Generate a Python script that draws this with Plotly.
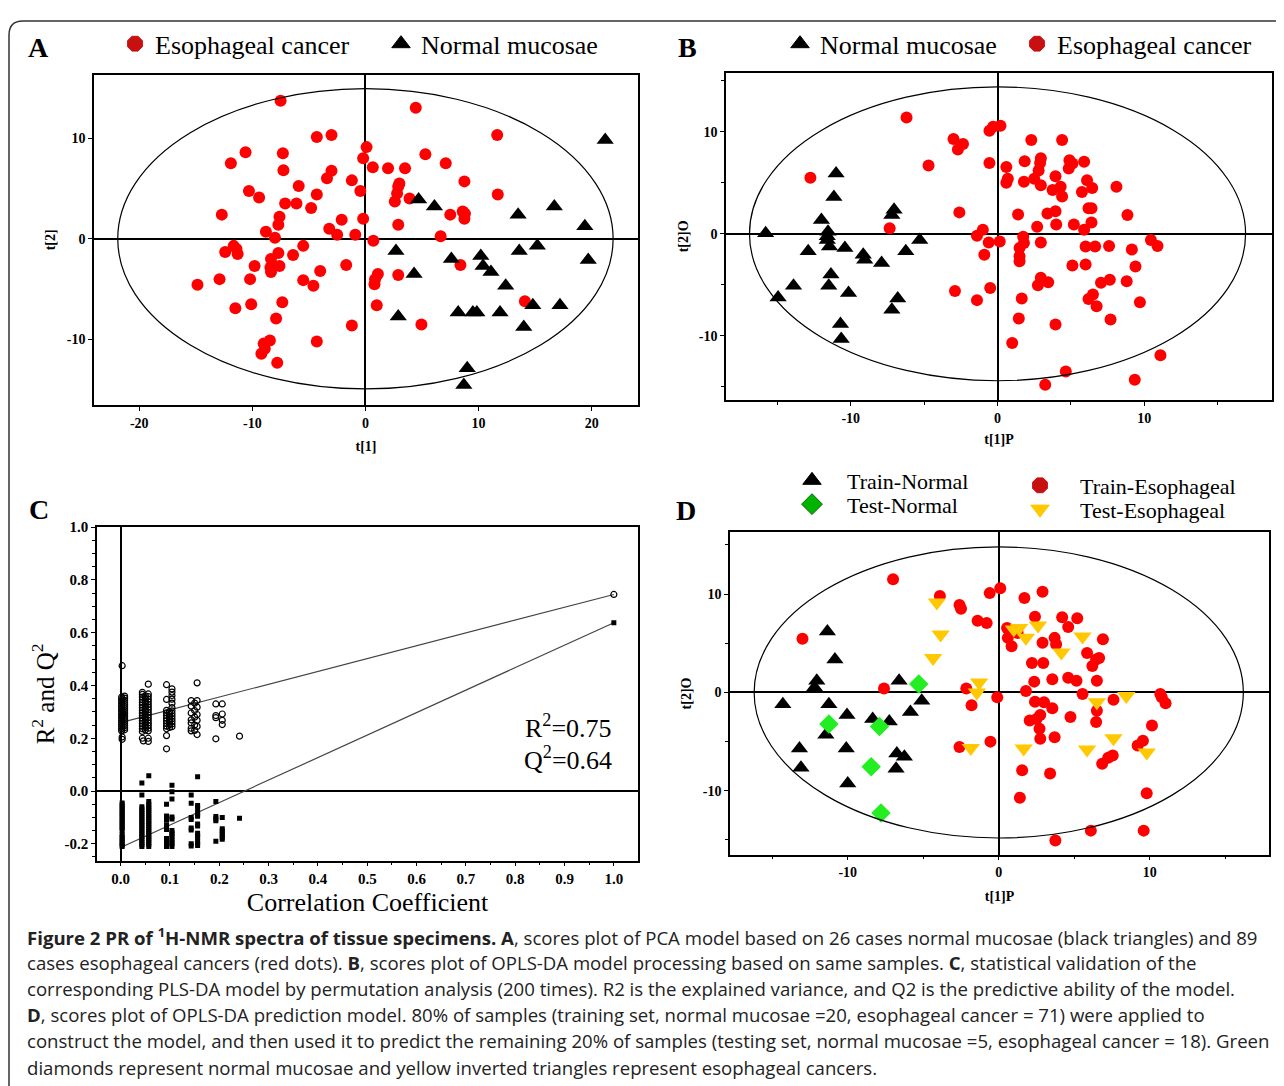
import plotly.graph_objects as go

W, H = 1284, 1086
OFF = 8  # the page body adds an 8px margin, so the figure is drawn 8px smaller and shifted
FW, FH = W - OFF, H - OFF
SERIF = "Liberation Serif, DejaVu Serif, serif"
SANS = "Open Sans, Noto Sans, sans-serif"

# ---- Panel A: PCA scores ----
a_cancer_t1 = [-7.5, 4.45, -4.3, -3.0, 11.65, -10.6, -7.3, 0.1, 5.3, -11.9, -7.25, -0.2, 0.65, 2.0, 3.5,
               7.1, -3.0, -3.4, -1.2, 3.0, 8.75, -5.9, -10.3, -9.4, -4.3, -0.45, 2.8, 2.6, 3.9, 11.7,
               -7.1, -6.1, -4.8, -12.7, -7.6, -7.7, -2.1, -0.2, 2.9, 7.5, 8.6, 8.75, -8.8, -8.0, -3.2,
               -2.5, -0.9, 0.7, 6.65, -11.65, -12.4, -11.3, -5.5, -6.4, -7.7, -8.35, -9.8, -7.6, -1.7, 8.4,
               -8.35, -4.0, 1.1, 2.9, -12.9, -10.2, -5.5, -4.6, 0.8, -14.85, -7.35, -10.1, -11.5, 1.0, 14.1,
               -7.9, -1.2, 4.95, -4.3, -8.45, -8.9, -9.2, -7.8, -8.4, 2.9, -11.4, -9.0, 0.85, 8.8]
a_cancer_t2 = [13.7, 13.0, 10.1, 10.3, 10.3, 8.6, 8.5, 9.1, 8.4, 7.5, 6.8, 8.0, 7.1, 7.0, 7.0,
               7.5, 6.75, 6.0, 5.8, 5.5, 5.7, 5.25, 4.75, 4.1, 4.4, 4.75, 4.5, 3.7, 4.0, 4.4,
               3.5, 3.5, 3.05, 2.4, 2.2, 1.4, 1.9, 2.0, 1.4, 2.4, 2.7, 2.0, 0.7, 0.1, 1.0,
               0.4, 0.4, -0.2, 0.25, -0.7, -1.3, -1.5, -0.7, -1.6, -1.4, -2.0, -2.7, -2.7, -2.6, -2.6,
               -3.3, -3.2, -3.5, -3.6, -4.0, -4.0, -4.1, -4.65, -4.5, -4.55, -6.3, -6.5, -6.9, -6.6, -6.2,
               -7.9, -8.6, -8.5, -10.2, -10.1, -10.9, -11.4, -12.3, -2.85, 5.2, -1.0, -10.4, -4.0, 2.5]
a_normal_t1 = [21.2, 4.7, 6.1, 13.5, 16.7, 19.4, 2.7, 7.6, 10.2, 15.2, 13.6, 19.7, 10.4,
               11.1, 4.3, 12.4, 14.8, 17.2, 8.2, 9.5, 9.85, 11.9, 2.9, 14.0, 9.0, 8.7]
a_normal_t2 = [9.8, 3.9, 3.2, 2.4, 3.2, 1.25, -1.2, -2.0, -1.7, -0.7, -1.2, -2.1, -2.7,
               -3.3, -3.5, -4.65, -6.6, -6.6, -7.3, -7.3, -7.3, -7.3, -7.7, -8.75, -12.85, -14.5]
a_ellipse = (21.9, 14.9)

# ---- Panel B: OPLS-DA scores ----
b_cancer_t1 = [-6.2, -0.3, 0.2, -0.55, -3.0, -2.35, -2.7, 2.3, 4.4, -4.7, -0.55, 0.6, 1.85, 2.95, 4.9,
               5.9, 0.7, 0.6, 1.8, 2.5, 2.8, 3.95, 4.85, 6.1, 5.75, 6.45, 8.1, 3.75, 4.4, 2.95,
               -2.6, 1.4, 3.4, 3.95, 6.2, 6.4, 8.85, 4.0, 5.2, 2.7, 5.9, -7.35, -1.0, -1.4, 0.15,
               -0.6, 1.75, 2.95, 10.45, 10.9, 6.0, 6.65, 7.6, 9.15, 1.5, 1.5, -0.9, 1.5, 5.1, 6.0,
               9.4, 2.95, 3.45, 2.75, 7.65, 7.05, 8.8, -2.9, -0.5, 6.5, 6.75, -1.4, 1.65, 9.7, 1.45,
               7.7, 3.95, 1.0, 11.1, 4.65, 9.35, 3.25, -12.75, 5.1, 4.3, 6.4, 1.8, 6.2, 2.9]
b_cancer_t2 = [11.4, 10.5, 10.6, 10.1, 9.3, 8.8, 8.25, 9.2, 9.2, 6.7, 6.95, 6.55, 7.1, 7.4, 7.2,
               7.05, 5.4, 5.0, 5.1, 5.4, 6.2, 5.65, 6.4, 5.25, 4.1, 4.5, 4.6, 4.3, 3.65, 4.75,
               2.1, 1.9, 2.0, 2.2, 2.5, 1.1, 1.85, 0.9, 0.9, 0.7, 0.4, 0.55, 0.4, -0.2, -0.75,
               -0.85, -0.3, -0.85, -0.6, -1.2, -1.25, -1.25, -1.2, -1.55, -1.4, -2.2, -2.05, -2.7, -3.1, -3.0,
               -3.2, -4.3, -4.75, -5.05, -4.5, -4.8, -4.65, -5.6, -5.3, -5.95, -7.1, -6.5, -6.35, -6.7, -8.3,
               -8.4, -8.9, -10.7, -11.9, -13.5, -14.3, -14.8, 5.5, 6.9, 4.6, 2.5, -0.9, -6.4, 6.95]
b_normal_t1 = [-11.0, -11.15, -15.8, -12.0, -11.55, -11.6, -11.45, -12.9, -10.4, -9.15, -9.05, -7.9, -7.05,
               -7.2, -5.3, -6.25, -11.35, -11.5, -13.9, -14.95, -10.15, -6.8, -7.2, -10.7, -10.65, -11.6]
b_normal_t2 = [5.9, 3.6, 0.05, 1.35, 0.2, -0.6, -1.25, -1.7, -1.4, -2.05, -2.55, -2.85, 2.35,
               1.85, -0.6, -1.7, -4.0, -5.1, -5.1, -6.25, -5.8, -6.35, -7.45, -8.85, -10.3, -0.25]
b_ellipse = (16.9, 14.4)

# ---- Panel C: permutation test (200 times), values grouped by the x column they sit in ----
c_r2_perm = {
    0.002: [0.228, 0.236, 0.244, 0.252, 0.260, 0.268, 0.276, 0.284, 0.292, 0.300, 0.308, 0.316, 0.324,
            0.332, 0.340, 0.348, 0.356],
    0.003: [0.475, 0.196, 0.205],
    0.008: [0.232, 0.240, 0.248, 0.256, 0.264, 0.272, 0.280, 0.288, 0.296, 0.304, 0.312, 0.320, 0.328,
            0.336, 0.344, 0.352, 0.360],
    0.044: [0.200, 0.226, 0.236, 0.246, 0.256, 0.266, 0.276, 0.286, 0.296, 0.306, 0.316, 0.326, 0.336,
            0.346, 0.356, 0.366, 0.374],
    0.046: [0.190],
    0.050: [0.231, 0.241, 0.251, 0.261, 0.271, 0.281, 0.291, 0.301, 0.311, 0.321, 0.331, 0.341, 0.351, 0.361],
    0.056: [0.188, 0.200, 0.228, 0.238, 0.248, 0.258, 0.268, 0.278, 0.288, 0.298, 0.308, 0.318, 0.328, 0.338,
            0.348, 0.358, 0.368, 0.405],
    0.093: [0.403, 0.347, 0.210, 0.160, 0.236, 0.246, 0.256, 0.266, 0.276, 0.286, 0.296, 0.306],
    0.099: [0.241, 0.251, 0.261, 0.271, 0.281, 0.291, 0.301],
    0.104: [0.244, 0.254, 0.264, 0.274, 0.284, 0.294, 0.304, 0.316, 0.333, 0.348, 0.362, 0.375, 0.387],
    0.143: [0.343, 0.322, 0.296, 0.270, 0.258, 0.238, 0.228],
    0.150: [0.333, 0.305, 0.280, 0.250, 0.230],
    0.155: [0.410, 0.343, 0.318, 0.290, 0.268, 0.245, 0.214],
    0.193: [0.330, 0.286, 0.278, 0.198],
    0.206: [0.330, 0.292, 0.268, 0.252],
    0.241: [0.208],
    1.0: [0.745],
}
c_q2_perm = {
    0.003: [-0.045, -0.053, -0.061, -0.069, -0.077, -0.085, -0.093, -0.101, -0.109, -0.117, -0.125, -0.133,
            -0.141, -0.149, -0.165, -0.173, -0.181, -0.189, -0.197, -0.205, -0.210],
    0.043: [0.030, -0.015, -0.060, -0.068, -0.076, -0.084, -0.092, -0.100, -0.108, -0.116, -0.124, -0.132,
            -0.140, -0.148, -0.156, -0.164, -0.172, -0.180, -0.188, -0.196, -0.204, -0.210],
    0.057: [0.058, -0.040, -0.050, -0.058, -0.066, -0.074, -0.082, -0.090, -0.098, -0.106, -0.114, -0.122,
            -0.130, -0.138, -0.146, -0.154, -0.162, -0.170, -0.178, -0.186, -0.194, -0.202, -0.210],
    0.093: [-0.050, -0.095, -0.103, -0.111, -0.130, -0.138, -0.146, -0.180, -0.188, -0.196, -0.204, -0.210],
    0.104: [0.022, -0.003, -0.030, -0.098, -0.106, -0.150, -0.158, -0.166, -0.174, -0.185, -0.193, -0.201,
            -0.210],
    0.143: [-0.015, -0.046, -0.100, -0.108, -0.140, -0.148, -0.200, -0.208],
    0.156: [0.054, -0.055, -0.063, -0.080, -0.088, -0.096, -0.125, -0.133, -0.160, -0.168, -0.176, -0.190,
            -0.198, -0.206],
    0.193: [-0.040, -0.097, -0.105, -0.113, -0.190],
    0.206: [-0.100, -0.143, -0.151, -0.159, -0.167, -0.175, -0.183],
    0.241: [-0.103],
    1.0: [0.638],
}
c_fit_x = [0.0, 1.0]
c_r2_fit = [0.259, 0.745]
c_q2_fit = [-0.214, 0.638]

# ---- Panel D: OPLS-DA prediction ----
d_train_cancer_t1 = [-7.0, -3.9, -2.6, -2.5, -0.6, 0.1, 1.7, 2.9, -1.4, -0.8, 0.55, 2.4, 4.2, 5.2, 4.6,
                     0.6, 0.85, 2.9, 3.7, 6.9, 5.85, 6.65, 6.2, 2.2, 2.95, -13.0, 4.6, 5.15, 3.55, 2.35,
                     6.5, -7.6, -2.15, -0.1, 1.8, 5.55, 7.6, 10.7, 11.05, -1.8, 2.4, 3.55, 2.75, 2.05, 4.75,
                     6.45, 10.15, 2.7, 2.75, 3.7, -0.55, -2.6, 9.55, 9.2, 7.55, 6.85, 1.55, 3.4, 9.8, 1.4,
                     6.1, 9.6, 3.75, 1.25, 3.8, 7.25, 6.45, 3.0, 2.5, 6.5, 10.8]
d_train_cancer_t2 = [11.5, 9.8, 8.9, 8.5, 10.1, 10.6, 9.6, 10.25, 7.3, 7.05, 6.55, 7.7, 7.65, 7.55, 6.65,
                     5.55, 4.7, 5.05, 5.55, 5.4, 4.0, 3.5, 2.7, 3.0, 3.0, 5.45, 1.5, 1.2, 1.35, 1.1,
                     1.2, 0.4, 0.4, -0.5, 0.15, -0.15, -0.75, -0.15, -1.1, -1.3, -0.95, -1.6, -2.3, -2.85, -2.5,
                     -3.0, -3.35, -3.7, -4.7, -4.55, -5.0, -5.55, -4.9, -5.4, -6.4, -7.25, -7.9, -8.25, -10.25, -10.7,
                     -14.05, -14.05, -15.05, 6.05, 4.9, -6.65, 3.35, -1.0, -2.7, -1.85, -0.5]
d_test_cancer_t1 = [-4.1, -3.85, -4.35, 1.35, 1.8, 2.6, 5.55, 4.15, -1.3, -1.45, 6.5, 8.45, 7.6, 5.85,
                    9.8, 1.65, -1.85, 1.0]
d_test_cancer_t2 = [9.15, 5.9, 3.5, 6.55, 5.55, 6.8, 5.7, 4.05, 1.0, 0.0, -1.0, -0.35, -4.65, -5.8,
                    -6.1, -5.7, -5.65, 6.4]
d_test_normal_t1 = [-5.3, -11.25, -7.9, -8.45, -7.8]
d_test_normal_t2 = [0.85, -3.2, -3.45, -7.55, -12.25]
d_train_normal_t1 = [-11.35, -10.85, -12.05, -12.2, -14.3, -11.25, -10.05, -8.35, -7.25, -6.6, -5.1,
                     -5.85, -11.45, -13.2, -10.1, -13.1, -6.75, -6.25, -6.8, -10.0]
d_train_normal_t2 = [6.2, 3.35, 1.2, 0.5, -1.2, -1.2, -2.3, -2.7, -2.95, 1.2, -0.85,
                     -2.0, -4.3, -5.7, -5.7, -7.65, -6.2, -6.55, -7.75, -9.25]
d_ellipse = (16.2, 14.8)

# tick labels (plain hyphen minus as in the original)
score_ticks = [-20, -10, 0, 10, 20]
score_ticktext = ['-20', '-10', '0', '10', '20']
c_xticks = [0.0, 0.1, 0.2, 0.3, 0.4, 0.5, 0.6, 0.7, 0.8, 0.9, 1.0]
c_yticks = [-0.2, 0.0, 0.2, 0.4, 0.6, 0.8, 1.0]


def px_x(v):
    return (v - OFF) / FW


def px_y(v):
    return 1 - (v - OFF) / FH


def flatten(cols):
    xs, ys = [], []
    for cx, vals in cols.items():
        xs += [cx] * len(vals)
        ys += vals
    return xs, ys


def axis(domain, rng, anchor, tsize=14, **kw):
    d = dict(domain=domain, range=rng, anchor=anchor, showline=True, mirror=True,
             linecolor='black', linewidth=1.5, showgrid=False,
             zeroline=True, zerolinecolor='black', zerolinewidth=1.5,
             ticks='outside', ticklen=4, tickcolor='black',
             tickfont=dict(family=SERIF, size=tsize, color='black', weight='bold'),
             title_font=dict(family=SERIF, size=14, color='black', weight='bold'))
    d.update(kw)
    return d


fig = go.Figure()

# A
fig.add_trace(go.Scatter(x=a_cancer_t1, y=a_cancer_t2, mode='markers', xaxis='x', yaxis='y',
                         marker=dict(color='#ff0000', size=12, symbol='circle'), showlegend=False))
fig.add_trace(go.Scatter(x=a_normal_t1, y=a_normal_t2, mode='markers', xaxis='x', yaxis='y',
                         marker=dict(color='black', size=15, symbol='triangle-up'), showlegend=False))
# B
fig.add_trace(go.Scatter(x=b_cancer_t1, y=b_cancer_t2, mode='markers', xaxis='x2', yaxis='y2',
                         marker=dict(color='#ff0000', size=12, symbol='circle'), showlegend=False))
fig.add_trace(go.Scatter(x=b_normal_t1, y=b_normal_t2, mode='markers', xaxis='x2', yaxis='y2',
                         marker=dict(color='black', size=15, symbol='triangle-up'), showlegend=False))
# C
r2x, r2y = flatten(c_r2_perm)
q2x, q2y = flatten(c_q2_perm)
fig.add_trace(go.Scatter(x=c_fit_x, y=c_r2_fit, mode='lines', xaxis='x3', yaxis='y3',
                         line=dict(color='#444', width=1.2), showlegend=False))
fig.add_trace(go.Scatter(x=c_fit_x, y=c_q2_fit, mode='lines', xaxis='x3', yaxis='y3',
                         line=dict(color='#444', width=1.2), showlegend=False))
fig.add_trace(go.Scatter(x=r2x, y=r2y, mode='markers', xaxis='x3', yaxis='y3',
                         marker=dict(symbol='circle-open', size=6, color='black', line=dict(width=1.2)),
                         showlegend=False))
fig.add_trace(go.Scatter(x=q2x, y=q2y, mode='markers', xaxis='x3', yaxis='y3',
                         marker=dict(symbol='square', size=5, color='black'), showlegend=False))
# D
fig.add_trace(go.Scatter(x=d_train_cancer_t1, y=d_train_cancer_t2, mode='markers', xaxis='x4', yaxis='y4',
                         marker=dict(color='#ff0000', size=12, symbol='circle'), showlegend=False))
fig.add_trace(go.Scatter(x=d_train_normal_t1, y=d_train_normal_t2, mode='markers', xaxis='x4', yaxis='y4',
                         marker=dict(color='black', size=15, symbol='triangle-up'), showlegend=False))
fig.add_trace(go.Scatter(x=d_test_cancer_t1, y=d_test_cancer_t2, mode='markers', xaxis='x4', yaxis='y4',
                         marker=dict(color='#ffc800', size=16, symbol='triangle-down'), showlegend=False))
fig.add_trace(go.Scatter(x=d_test_normal_t1, y=d_test_normal_t2, mode='markers', xaxis='x4', yaxis='y4',
                         marker=dict(color='#22ee22', size=15, symbol='diamond'), showlegend=False))

# legend entries (one legend per key so each sits where the original puts it)
# key, text, symbol, colour, symbol centre x/y, font size, gap from symbol centre to text
legend_items = [
    ('legend', 'Esophageal cancer', 'octagon', '#c81010', 135, 36, 26, 20),
    ('legend2', 'Normal mucosae', 'triangle-up', 'black', 401, 36, 26, 20),
    ('legend3', 'Normal mucosae', 'triangle-up', 'black', 800, 36, 26, 20),
    ('legend4', 'Esophageal cancer', 'octagon', '#c81010', 1037, 36, 26, 20),
    ('legend5', 'Train-Normal', 'triangle-up', 'black', 812, 476, 22, 35),
    ('legend6', 'Test-Normal', 'diamond', '#00b400', 812, 500, 22, 35),
    ('legend7', 'Train-Esophageal', 'octagon', '#c81010', 1040, 481, 22, 40),
    ('legend8', 'Test-Esophageal', 'triangle-down', '#ffc800', 1040, 505, 22, 40),
]
legends = {}
for key, name, sym, col, cx, cy, fs, gap in legend_items:
    fig.add_trace(go.Scatter(x=[None], y=[None], mode='markers', name=name, legend=key,
                             marker=dict(symbol=sym, color=col, size=18,
                                         line=dict(color='#006600' if sym == 'diamond' else col, width=1))))
    legends[key] = dict(x=px_x(cx - gap), y=px_y(cy), xanchor='left', yanchor='middle',
                        bgcolor='rgba(0,0,0,0)', borderwidth=0, itemsizing='trace', itemwidth=2 * gap - 10,
                        font=dict(family=SERIF, size=fs, color='black'))

shapes = []
for ax, (ea, eb) in [('', a_ellipse), ('2', b_ellipse), ('4', d_ellipse)]:
    shapes.append(dict(type='circle', xref='x' + ax, yref='y' + ax, x0=-ea, x1=ea, y0=-eb, y1=eb,
                       line=dict(color='black', width=1.2)))
# outer frame with rounded corner
fx, fy, r = 9, 13, 14
shapes.append(dict(type='path', xref='paper', yref='paper',
                   path=f"M {px_x(fx)},{px_y(1100)} L {px_x(fx)},{px_y(fy + r)} "
                        f"Q {px_x(fx)},{px_y(fy)} {px_x(fx + r)},{px_y(fy)} L {px_x(1300)},{px_y(fy)}",
                   line=dict(color='#333', width=1.5)))

annotations = []
for lab, lx, ly in [('A', 38, 40), ('B', 687, 40), ('C', 39, 505), ('D', 686, 506)]:
    annotations.append(dict(text=lab, x=px_x(lx), y=px_y(ly), xref='paper', yref='paper',
                            xanchor='center', yanchor='middle', showarrow=False,
                            font=dict(family=SERIF, size=28, color='black', weight='bold')))
annotations.append(dict(text='R<sup>2</sup>=0.75', x=1.0, y=0.245, xref='x3', yref='y3', showarrow=False,
                        xanchor='right', yanchor='middle', font=dict(family=SERIF, size=26, color='black')))
annotations.append(dict(text='Q<sup>2</sup>=0.64', x=1.0, y=0.125, xref='x3', yref='y3', showarrow=False,
                        xanchor='right', yanchor='middle', font=dict(family=SERIF, size=26, color='black')))

caption = [
    "<b>Figure 2 PR of <sup>1</sup>H-NMR spectra of tissue specimens. A</b>, scores plot of PCA model based on "
    "26 cases normal mucosae (black triangles) and 89",
    "cases esophageal cancers (red dots). <b>B</b>, scores plot of OPLS-DA model processing based on same "
    "samples. <b>C</b>, statistical validation of the",
    "corresponding PLS-DA model by permutation analysis (200 times). R2 is the explained variance, and Q2 is "
    "the predictive ability of the model.",
    "<b>D</b>, scores plot of OPLS-DA prediction model. 80% of samples (training set, normal mucosae =20, "
    "esophageal cancer = 71) were applied to",
    "construct the model, and then used it to predict the remaining 20% of samples (testing set, normal "
    "mucosae =5, esophageal cancer = 18). Green",
    "diamonds represent normal mucosae and yellow inverted triangles represent esophageal cancers.",
]
for i, line in enumerate(caption):
    annotations.append(dict(text=line, x=px_x(25), y=px_y(935 + i * 26.4), xref='paper', yref='paper',
                            xanchor='left', yanchor='middle', showarrow=False,
                            font=dict(family=SANS, size=18.6, color='#222')))

minor5 = dict(ticks='outside', ticklen=3, dtick=5, tickcolor='black')
minor05 = dict(ticks='outside', ticklen=3, dtick=0.05, tickcolor='black')
score_tk = dict(tickmode='array', tickvals=score_ticks, ticktext=score_ticktext)

fig.update_layout(
    width=FW, height=FH, margin=dict(l=0, r=0, t=0, b=0),
    paper_bgcolor='white', plot_bgcolor='white',
    xaxis=axis([px_x(94), px_x(638)], [-24, 24.1], 'y', **score_tk, title=dict(text='t[1]', standoff=12)),
    yaxis=axis([px_y(400), px_y(67)], [-16.5, 16.3], 'x', **score_tk, title=dict(text='t[2]', standoff=8)),
    xaxis2=axis([px_x(726), px_x(1272)], [-18.5, 18.7], 'y2', **score_tk, minor=minor5,
                title=dict(text='t[1]P', standoff=10)),
    yaxis2=axis([px_y(395), px_y(65)], [-16.3, 15.8], 'x2', **score_tk, minor=minor5,
                title=dict(text='t[2]O', standoff=7)),
    xaxis3=axis([px_x(97), px_x(638)], [-0.048, 1.049], 'y3', tsize=15, tickmode='array', tickvals=c_xticks,
                ticktext=[f"{v:.1f}" for v in c_xticks], minor=minor05,
                title=dict(text='Correlation Coefficient', standoff=6,
                           font=dict(family=SERIF, size=26, color='black', weight='normal'))),
    yaxis3=axis([px_y(859), px_y(523)], [-0.264, 1.0], 'x3', tsize=15, tickmode='array', tickvals=c_yticks,
                ticktext=[f"{v:.1f}" for v in c_yticks], minor=minor05,
                title=dict(text='R<sup>2</sup> and Q<sup>2</sup>', standoff=3,
                           font=dict(family=SERIF, size=25, color='black', weight='normal'))),
    xaxis4=axis([px_x(730), px_x(1269)], [-17.8, 17.9], 'y4', **score_tk, minor=minor5,
                title=dict(text='t[1]P', standoff=12)),
    yaxis4=axis([px_y(853), px_y(528)], [-16.5, 16.3], 'x4', **score_tk, minor=minor5,
                title=dict(text='t[2]O', standoff=8)),
    shapes=shapes,
    annotations=annotations,
    **legends,
)

fig.write_html("out.html")
